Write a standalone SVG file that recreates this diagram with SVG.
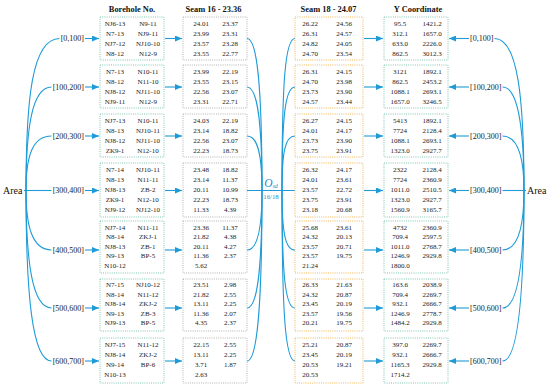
<svg xmlns="http://www.w3.org/2000/svg" width="550" height="388" viewBox="0 0 550 388">
<defs>
<marker id="ah" markerUnits="userSpaceOnUse" markerWidth="7" markerHeight="6" refX="7" refY="3" orient="auto"><path d="M0,0 L7,3 L0,6 z" fill="#1e9bd7"/></marker>
<style>
text{font-family:"Liberation Serif","Times New Roman",serif;}
.t{font-size:7px;fill:#222;text-anchor:middle}
.h{font-size:8.4px;font-weight:bold;fill:#111;text-anchor:middle}
.lab{font-size:8px;fill:#222}
.area{font-size:10px;fill:#111}
.c{fill:none;stroke:#1e9bd7;stroke-width:1.1}
.a{fill:none;stroke:#1e9bd7;stroke-width:1.1;marker-end:url(#ah)}
.bb{fill:#fff;stroke:#72c0a8;stroke-width:0.9;stroke-dasharray:1 1.2}
.sb{fill:#fff;stroke:#aaaaaa;stroke-width:0.9;stroke-dasharray:1 1.2}
.ob{fill:#fff;stroke:#f0ae45;stroke-width:0.9;stroke-dasharray:1 1.2}
.yb{fill:#fff;stroke:#72c0a8;stroke-width:0.9;stroke-dasharray:1 1.2}
</style>
</defs>
<rect width="550" height="388" fill="#fff"/>

<g id="headers">
<text class="h" x="132" y="11.5">Borehole No.</text>
<text class="h" x="213.5" y="11.5">Seam 16 - 23.36</text>
<text class="h" x="328.5" y="11.5">Seam 18 - 24.07</text>
<text class="h" x="418" y="11.5">Y Coordinate</text>
</g>

<g id="connectors">
<path class="c" d="M26 190.5 C26 99 32 38.5 59.5 38.5"/>
<path class="c" d="M26 190.5 C26 128 32 87 51.5 87"/>
<path class="c" d="M26 190.5 C26 157 32 136 51.5 136"/>
<path class="c" d="M24 190.5 L51.5 190.5"/>
<path class="c" d="M26 190.5 C26 226 32 250 51.5 250"/>
<path class="c" d="M26 190.5 C26 261 32 308 51.5 308"/>
<path class="c" d="M26 190.5 C26 293 32 361 51.5 361"/>
<path class="c" d="M524 190.5 C524 99 518 38.5 494.5 38.5"/>
<path class="c" d="M524 190.5 C524 128 518 87 502.5 87"/>
<path class="c" d="M524 190.5 C524 157 518 136 502.5 136"/>
<path class="c" d="M526 190.5 L502.5 190.5"/>
<path class="c" d="M524 190.5 C524 226 518 250 502.5 250"/>
<path class="c" d="M524 190.5 C524 261 518 308 502.5 308"/>
<path class="c" d="M524 190.5 C524 293 518 361 502.5 361"/>
<path class="a" d="M85 38.5 H99"/>
<path class="a" d="M85 87 H99"/>
<path class="a" d="M85 136 H99"/>
<path class="a" d="M85 190.5 H99"/>
<path class="a" d="M85 250 H99"/>
<path class="a" d="M85 308 H99"/>
<path class="a" d="M85 361 H99"/>
<path class="a" d="M165 38.5 H182"/>
<path class="a" d="M165 87 H182"/>
<path class="a" d="M165 136 H182"/>
<path class="a" d="M165 190.5 H182"/>
<path class="a" d="M165 250 H182"/>
<path class="a" d="M165 308 H182"/>
<path class="a" d="M165 361 H182"/>
<path class="a" d="M364 38.5 H383"/>
<path class="a" d="M364 87 H383"/>
<path class="a" d="M364 136 H383"/>
<path class="a" d="M364 190.5 H383"/>
<path class="a" d="M364 250 H383"/>
<path class="a" d="M364 308 H383"/>
<path class="a" d="M364 361 H383"/>
<path class="a" d="M469 38.5 H449"/>
<path class="a" d="M469 87 H449"/>
<path class="a" d="M469 136 H449"/>
<path class="a" d="M469 190.5 H449"/>
<path class="a" d="M469 250 H449"/>
<path class="a" d="M469 308 H449"/>
<path class="a" d="M469 361 H449"/>
<path class="c" d="M247 190.5 H295"/>
<path class="c" d="M247 38.5 C257 38.5 262 84 262 190.5"/>
<path class="c" d="M247 87 C257 87 262 118 262 190.5"/>
<path class="c" d="M247 136 C257 136 262 152 262 190.5"/>
<path class="c" d="M247 250 C257 250 262 232 262 190.5"/>
<path class="c" d="M247 308 C257 308 262 273 262 190.5"/>
<path class="c" d="M247 361 C257 361 262 310 262 190.5"/>
<path class="c" d="M295 38.5 C285 38.5 282 84 282 190.5"/>
<path class="c" d="M295 87 C285 87 282 118 282 190.5"/>
<path class="c" d="M295 136 C285 136 282 152 282 190.5"/>
<path class="c" d="M295 250 C285 250 282 232 282 190.5"/>
<path class="c" d="M295 308 C285 308 282 273 282 190.5"/>
<path class="c" d="M295 361 C285 361 282 310 282 190.5"/>
</g>

<g id="area-left"><text class="area" x="3" y="194">Area</text></g>
<g id="area-right"><text class="area" x="527" y="194">Area</text></g>

<g id="osd">
<text x="271" y="186.5" text-anchor="middle" fill="#1e8fcc" font-size="11.5" font-style="italic">O<tspan font-size="6" dy="1.5">sd</tspan></text>
<text x="271" y="199" text-anchor="middle" fill="#1e8fcc" font-size="6.8">16/18</text>
</g>

<g id="ranges-left" class="lab" text-anchor="end">
<text x="84" y="41.3">[0,100]</text>
<text x="84" y="89.8">[100,200]</text>
<text x="84" y="138.8">[200,300]</text>
<text x="84" y="193.3">[300,400]</text>
<text x="84" y="252.8">[400,500]</text>
<text x="84" y="310.8">[500,600]</text>
<text x="84" y="363.8">[600,700]</text>
</g>
<g id="ranges-right" class="lab">
<text x="470" y="41.3">[0,100]</text>
<text x="470" y="89.8">[100,200]</text>
<text x="470" y="138.8">[200,300]</text>
<text x="470" y="193.3">[300,400]</text>
<text x="470" y="252.8">[400,500]</text>
<text x="470" y="310.8">[500,600]</text>
<text x="470" y="363.8">[600,700]</text>
</g>

<g id="bh1"><rect class="bb" x="100" y="17" width="64" height="43"/>
<text class="t" y="25.9"><tspan x="115">NJ6-13</tspan><tspan x="148">N9-11</tspan></text>
<text class="t" y="35.9"><tspan x="115">N7-13</tspan><tspan x="148">NJ9-11</tspan></text>
<text class="t" y="45.9"><tspan x="115">NJ7-12</tspan><tspan x="148">NJ10-10</tspan></text>
<text class="t" y="55.9"><tspan x="115">N8-12</tspan><tspan x="148">N12-9</tspan></text></g>
<g id="bh2"><rect class="bb" x="100" y="65" width="64" height="43"/>
<text class="t" y="73.9"><tspan x="115">N7-13</tspan><tspan x="148">N10-11</tspan></text>
<text class="t" y="83.9"><tspan x="115">N8-12</tspan><tspan x="148">N11-10</tspan></text>
<text class="t" y="93.9"><tspan x="115">NJ8-12</tspan><tspan x="148">NJ11-10</tspan></text>
<text class="t" y="103.9"><tspan x="115">NJ9-11</tspan><tspan x="148">N12-9</tspan></text></g>
<g id="bh3"><rect class="bb" x="100" y="114" width="64" height="43"/>
<text class="t" y="122.9"><tspan x="115">NJ7-13</tspan><tspan x="148">N10-11</tspan></text>
<text class="t" y="132.9"><tspan x="115">N8-13</tspan><tspan x="148">NJ10-11</tspan></text>
<text class="t" y="142.9"><tspan x="115">NJ8-12</tspan><tspan x="148">NJ11-10</tspan></text>
<text class="t" y="152.9"><tspan x="115">ZK9-1</tspan><tspan x="148">N12-10</tspan></text></g>
<g id="bh4"><rect class="bb" x="100" y="163" width="64" height="54"/>
<text class="t" y="171.9"><tspan x="115">N7-14</tspan><tspan x="148">NJ10-11</tspan></text>
<text class="t" y="181.9"><tspan x="115">N8-13</tspan><tspan x="148">N11-11</tspan></text>
<text class="t" y="191.9"><tspan x="115">NJ8-13</tspan><tspan x="148">ZB-2</tspan></text>
<text class="t" y="201.9"><tspan x="115">ZK9-1</tspan><tspan x="148">N12-10</tspan></text>
<text class="t" y="211.9"><tspan x="115">NJ9-12</tspan><tspan x="148">NJ12-10</tspan></text></g>
<g id="bh5"><rect class="bb" x="100" y="221" width="64" height="52"/>
<text class="t" y="229.9"><tspan x="115">NJ7-14</tspan><tspan x="148">N11-11</tspan></text>
<text class="t" y="239.4"><tspan x="115">N8-14</tspan><tspan x="148">ZKJ-1</tspan></text>
<text class="t" y="248.9"><tspan x="115">NJ8-13</tspan><tspan x="148">ZB-1</tspan></text>
<text class="t" y="258.4"><tspan x="115">N9-13</tspan><tspan x="148">BP-5</tspan></text>
<text class="t" y="267.9"><tspan x="115">N10-12</tspan></text></g>
<g id="bh6"><rect class="bb" x="100" y="279" width="64" height="52"/>
<text class="t" y="287.4"><tspan x="115">N7-15</tspan><tspan x="148">NJ10-12</tspan></text>
<text class="t" y="296.9"><tspan x="115">N8-14</tspan><tspan x="148">N11-12</tspan></text>
<text class="t" y="306.4"><tspan x="115">NJ8-14</tspan><tspan x="148">ZKJ-2</tspan></text>
<text class="t" y="315.9"><tspan x="115">N9-13</tspan><tspan x="148">ZB-3</tspan></text>
<text class="t" y="325.4"><tspan x="115">NJ9-13</tspan><tspan x="148">BP-5</tspan></text></g>
<g id="bh7"><rect class="bb" x="100" y="338" width="64" height="45"/>
<text class="t" y="347.4"><tspan x="115">NJ7-15</tspan><tspan x="148">N11-12</tspan></text>
<text class="t" y="357.4"><tspan x="115">NJ8-14</tspan><tspan x="148">ZKJ-2</tspan></text>
<text class="t" y="367.4"><tspan x="115">N9-14</tspan><tspan x="148">BP-6</tspan></text>
<text class="t" y="377.4"><tspan x="115">N10-13</tspan></text></g>

<g id="s16-1"><rect class="sb" x="183" y="17" width="64" height="43"/>
<text class="t" y="25.9"><tspan x="201">24.01</tspan><tspan x="230">23.37</tspan></text>
<text class="t" y="35.9"><tspan x="201">23.99</tspan><tspan x="230">23.31</tspan></text>
<text class="t" y="45.9"><tspan x="201">23.57</tspan><tspan x="230">23.28</tspan></text>
<text class="t" y="55.9"><tspan x="201">23.55</tspan><tspan x="230">22.77</tspan></text></g>
<g id="s16-2"><rect class="sb" x="183" y="65" width="64" height="43"/>
<text class="t" y="73.9"><tspan x="201">23.99</tspan><tspan x="230">22.19</tspan></text>
<text class="t" y="83.9"><tspan x="201">23.55</tspan><tspan x="230">23.15</tspan></text>
<text class="t" y="93.9"><tspan x="201">22.56</tspan><tspan x="230">23.07</tspan></text>
<text class="t" y="103.9"><tspan x="201">23.31</tspan><tspan x="230">22.71</tspan></text></g>
<g id="s16-3"><rect class="sb" x="183" y="114" width="64" height="43"/>
<text class="t" y="122.9"><tspan x="201">24.03</tspan><tspan x="230">22.19</tspan></text>
<text class="t" y="132.9"><tspan x="201">23.14</tspan><tspan x="230">18.82</tspan></text>
<text class="t" y="142.9"><tspan x="201">22.56</tspan><tspan x="230">23.07</tspan></text>
<text class="t" y="152.9"><tspan x="201">22.23</tspan><tspan x="230">18.73</tspan></text></g>
<g id="s16-4"><rect class="sb" x="183" y="163" width="64" height="54"/>
<text class="t" y="171.9"><tspan x="201">23.48</tspan><tspan x="230">18.82</tspan></text>
<text class="t" y="181.9"><tspan x="201">23.14</tspan><tspan x="230">11.37</tspan></text>
<text class="t" y="191.9"><tspan x="201">20.11</tspan><tspan x="230">10.99</tspan></text>
<text class="t" y="201.9"><tspan x="201">22.23</tspan><tspan x="230">18.73</tspan></text>
<text class="t" y="211.9"><tspan x="201">11.33</tspan><tspan x="230">4.39</tspan></text></g>
<g id="s16-5"><rect class="sb" x="183" y="221" width="64" height="52"/>
<text class="t" y="229.9"><tspan x="201">23.36</tspan><tspan x="230">11.37</tspan></text>
<text class="t" y="239.4"><tspan x="201">21.82</tspan><tspan x="230">4.38</tspan></text>
<text class="t" y="248.9"><tspan x="201">20.11</tspan><tspan x="230">4.27</tspan></text>
<text class="t" y="258.4"><tspan x="201">11.36</tspan><tspan x="230">2.37</tspan></text>
<text class="t" y="267.9"><tspan x="201">5.62</tspan></text></g>
<g id="s16-6"><rect class="sb" x="183" y="279" width="64" height="52"/>
<text class="t" y="287.4"><tspan x="201">23.51</tspan><tspan x="230">2.98</tspan></text>
<text class="t" y="296.9"><tspan x="201">21.82</tspan><tspan x="230">2.55</tspan></text>
<text class="t" y="306.4"><tspan x="201">13.11</tspan><tspan x="230">2.25</tspan></text>
<text class="t" y="315.9"><tspan x="201">11.36</tspan><tspan x="230">2.07</tspan></text>
<text class="t" y="325.4"><tspan x="201">4.35</tspan><tspan x="230">2.37</tspan></text></g>
<g id="s16-7"><rect class="sb" x="183" y="338" width="64" height="45"/>
<text class="t" y="347.4"><tspan x="201">22.15</tspan><tspan x="230">2.55</tspan></text>
<text class="t" y="357.4"><tspan x="201">13.11</tspan><tspan x="230">2.25</tspan></text>
<text class="t" y="367.4"><tspan x="201">3.71</tspan><tspan x="230">1.87</tspan></text>
<text class="t" y="377.4"><tspan x="201">2.63</tspan></text></g>

<g id="s18-1"><rect class="ob" x="295" y="17" width="68" height="43"/>
<text class="t" y="25.9"><tspan x="310">26.22</tspan><tspan x="344">24.56</tspan></text>
<text class="t" y="35.9"><tspan x="310">26.31</tspan><tspan x="344">24.57</tspan></text>
<text class="t" y="45.9"><tspan x="310">24.82</tspan><tspan x="344">24.05</tspan></text>
<text class="t" y="55.9"><tspan x="310">24.70</tspan><tspan x="344">23.54</tspan></text></g>
<g id="s18-2"><rect class="ob" x="295" y="65" width="68" height="43"/>
<text class="t" y="73.9"><tspan x="310">26.31</tspan><tspan x="344">24.15</tspan></text>
<text class="t" y="83.9"><tspan x="310">24.70</tspan><tspan x="344">23.98</tspan></text>
<text class="t" y="93.9"><tspan x="310">23.73</tspan><tspan x="344">23.90</tspan></text>
<text class="t" y="103.9"><tspan x="310">24.57</tspan><tspan x="344">23.44</tspan></text></g>
<g id="s18-3"><rect class="ob" x="295" y="114" width="68" height="43"/>
<text class="t" y="122.9"><tspan x="310">26.27</tspan><tspan x="344">24.15</tspan></text>
<text class="t" y="132.9"><tspan x="310">24.01</tspan><tspan x="344">24.17</tspan></text>
<text class="t" y="142.9"><tspan x="310">23.73</tspan><tspan x="344">23.90</tspan></text>
<text class="t" y="152.9"><tspan x="310">23.75</tspan><tspan x="344">23.91</tspan></text></g>
<g id="s18-4"><rect class="ob" x="295" y="163" width="68" height="54"/>
<text class="t" y="171.9"><tspan x="310">26.32</tspan><tspan x="344">24.17</tspan></text>
<text class="t" y="181.9"><tspan x="310">24.01</tspan><tspan x="344">23.61</tspan></text>
<text class="t" y="191.9"><tspan x="310">23.57</tspan><tspan x="344">22.72</tspan></text>
<text class="t" y="201.9"><tspan x="310">23.75</tspan><tspan x="344">23.91</tspan></text>
<text class="t" y="211.9"><tspan x="310">23.18</tspan><tspan x="344">20.68</tspan></text></g>
<g id="s18-5"><rect class="ob" x="295" y="221" width="68" height="52"/>
<text class="t" y="229.9"><tspan x="310">25.68</tspan><tspan x="344">23.61</tspan></text>
<text class="t" y="239.4"><tspan x="310">24.32</tspan><tspan x="344">20.13</tspan></text>
<text class="t" y="248.9"><tspan x="310">23.57</tspan><tspan x="344">20.71</tspan></text>
<text class="t" y="258.4"><tspan x="310">23.57</tspan><tspan x="344">19.75</tspan></text>
<text class="t" y="267.9"><tspan x="310">21.24</tspan></text></g>
<g id="s18-6"><rect class="ob" x="295" y="279" width="68" height="52"/>
<text class="t" y="287.4"><tspan x="310">26.33</tspan><tspan x="344">21.63</tspan></text>
<text class="t" y="296.9"><tspan x="310">24.32</tspan><tspan x="344">20.87</tspan></text>
<text class="t" y="306.4"><tspan x="310">23.45</tspan><tspan x="344">20.19</tspan></text>
<text class="t" y="315.9"><tspan x="310">23.57</tspan><tspan x="344">19.56</tspan></text>
<text class="t" y="325.4"><tspan x="310">20.21</tspan><tspan x="344">19.75</tspan></text></g>
<g id="s18-7"><rect class="ob" x="295" y="338" width="68" height="45"/>
<text class="t" y="347.4"><tspan x="310">25.21</tspan><tspan x="344">20.87</tspan></text>
<text class="t" y="357.4"><tspan x="310">23.45</tspan><tspan x="344">20.19</tspan></text>
<text class="t" y="367.4"><tspan x="310">20.53</tspan><tspan x="344">19.21</tspan></text>
<text class="t" y="377.4"><tspan x="310">20.53</tspan></text></g>

<g id="y1"><rect class="yb" x="384" y="17" width="64" height="43"/>
<text class="t" y="25.9"><tspan x="400">95.5</tspan><tspan x="432">1421.2</tspan></text>
<text class="t" y="35.9"><tspan x="400">312.1</tspan><tspan x="432">1657.0</tspan></text>
<text class="t" y="45.9"><tspan x="400">633.0</tspan><tspan x="432">2226.0</tspan></text>
<text class="t" y="55.9"><tspan x="400">862.5</tspan><tspan x="432">3012.3</tspan></text></g>
<g id="y2"><rect class="yb" x="384" y="65" width="64" height="43"/>
<text class="t" y="73.9"><tspan x="400">3121</tspan><tspan x="432">1892.1</tspan></text>
<text class="t" y="83.9"><tspan x="400">862.5</tspan><tspan x="432">2453.2</tspan></text>
<text class="t" y="93.9"><tspan x="400">1088.1</tspan><tspan x="432">2693.1</tspan></text>
<text class="t" y="103.9"><tspan x="400">1657.0</tspan><tspan x="432">3246.5</tspan></text></g>
<g id="y3"><rect class="yb" x="384" y="114" width="64" height="43"/>
<text class="t" y="122.9"><tspan x="400">5413</tspan><tspan x="432">1892.1</tspan></text>
<text class="t" y="132.9"><tspan x="400">7724</tspan><tspan x="432">2128.4</tspan></text>
<text class="t" y="142.9"><tspan x="400">1088.1</tspan><tspan x="432">2693.1</tspan></text>
<text class="t" y="152.9"><tspan x="400">1323.0</tspan><tspan x="432">2927.7</tspan></text></g>
<g id="y4"><rect class="yb" x="384" y="163" width="64" height="54"/>
<text class="t" y="171.9"><tspan x="400">2322</tspan><tspan x="432">2128.4</tspan></text>
<text class="t" y="181.9"><tspan x="400">7724</tspan><tspan x="432">2360.9</tspan></text>
<text class="t" y="191.9"><tspan x="400">1011.0</tspan><tspan x="432">2510.5</tspan></text>
<text class="t" y="201.9"><tspan x="400">1323.0</tspan><tspan x="432">2927.7</tspan></text>
<text class="t" y="211.9"><tspan x="400">1560.9</tspan><tspan x="432">3165.7</tspan></text></g>
<g id="y5"><rect class="yb" x="384" y="221" width="64" height="52"/>
<text class="t" y="229.9"><tspan x="400">4732</tspan><tspan x="432">2360.9</tspan></text>
<text class="t" y="239.4"><tspan x="400">709.4</tspan><tspan x="432">2597.5</tspan></text>
<text class="t" y="248.9"><tspan x="400">1011.0</tspan><tspan x="432">2768.7</tspan></text>
<text class="t" y="258.4"><tspan x="400">1246.9</tspan><tspan x="432">2929.8</tspan></text>
<text class="t" y="267.9"><tspan x="400">1800.0</tspan></text></g>
<g id="y6"><rect class="yb" x="384" y="279" width="64" height="52"/>
<text class="t" y="287.4"><tspan x="400">163.6</tspan><tspan x="432">2038.9</tspan></text>
<text class="t" y="296.9"><tspan x="400">709.4</tspan><tspan x="432">2269.7</tspan></text>
<text class="t" y="306.4"><tspan x="400">932.1</tspan><tspan x="432">2666.7</tspan></text>
<text class="t" y="315.9"><tspan x="400">1246.9</tspan><tspan x="432">2778.7</tspan></text>
<text class="t" y="325.4"><tspan x="400">1484.2</tspan><tspan x="432">2929.8</tspan></text></g>
<g id="y7"><rect class="yb" x="384" y="338" width="64" height="45"/>
<text class="t" y="347.4"><tspan x="400">397.0</tspan><tspan x="432">2269.7</tspan></text>
<text class="t" y="357.4"><tspan x="400">932.1</tspan><tspan x="432">2666.7</tspan></text>
<text class="t" y="367.4"><tspan x="400">1165.3</tspan><tspan x="432">2929.8</tspan></text>
<text class="t" y="377.4"><tspan x="400">1714.2</tspan></text></g>
</svg>
